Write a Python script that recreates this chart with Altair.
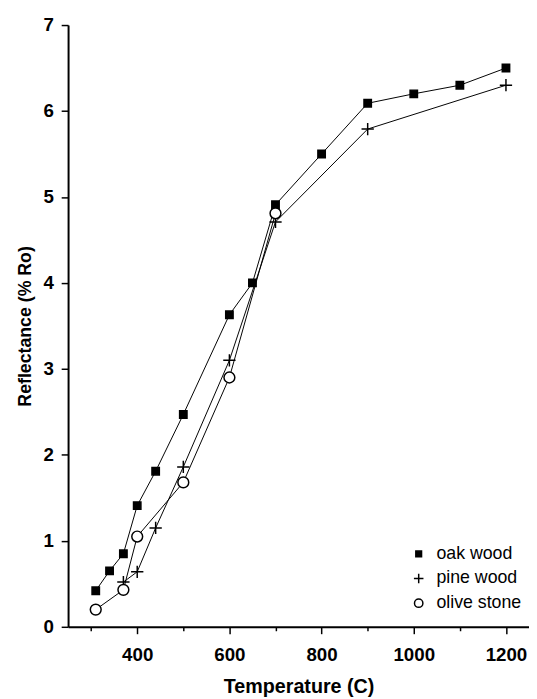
import altair as alt
import pandas as pd

# ---- data ----
series_names = ["oak wood", "pine wood", "olive stone"]

oak_temp = [310, 340, 370, 400, 440, 500, 600, 650, 700, 800, 900, 1000, 1100, 1200]
oak_refl = [0.42, 0.65, 0.85, 1.41, 1.81, 2.47, 3.63, 4.0, 4.91, 5.5, 6.09, 6.2, 6.3, 6.5]

pine_temp = [370, 400, 440, 500, 600, 700, 900, 1200]
pine_refl = [0.52, 0.64, 1.15, 1.86, 3.1, 4.71, 5.79, 6.3]

olive_temp = [310, 370, 400, 500, 600, 700]
olive_refl = [0.2, 0.43, 1.05, 1.68, 2.9, 4.81]

x_ticks = [300, 400, 500, 600, 700, 800, 900, 1000, 1100, 1200]
y_ticks = [0, 0.5, 1, 1.5, 2, 2.5, 3, 3.5, 4, 4.5, 5, 5.5, 6, 6.5, 7]

rows = []
for name, xs, ys in zip(series_names, [oak_temp, pine_temp, olive_temp],
                        [oak_refl, pine_refl, olive_refl]):
    for t, r in zip(xs, ys):
        rows.append({"series": name, "temp": t, "refl": r})
df = pd.DataFrame(rows)

FONT = "Liberation Sans"
SQUARE = "M-0.75,-0.75H0.75V0.75H-0.75Z"
PLUS = "M-1.25,0H1.25M0,-1.25V1.25"
CIRCLE = "M-1.1,0A1.1,1.1 0 1,0 1.1,0A1.1,1.1 0 1,0 -1.1,0Z"

x_enc = alt.X(
    "temp:Q",
    scale=alt.Scale(domain=[250, 1250], nice=False, zero=False),
    axis=alt.Axis(
        title="Temperature (C)",
        values=x_ticks,
        format="d",
        labelExpr="datum.value % 200 === 0 ? datum.label : ''",
        tickSize={"condition": {"test": "datum.value % 200 === 0", "value": 7}, "value": 4},
        labelFontSize=19,
        titleFontSize=20,
        labelPadding=12,
        titlePadding=13,
    ),
)
y_enc = alt.Y(
    "refl:Q",
    scale=alt.Scale(domain=[0, 7], nice=False),
    axis=alt.Axis(
        title="Reflectance (% Ro)",
        values=y_ticks,
        format="d",
        labelExpr="datum.value % 1 === 0 ? datum.label : ''",
        tickSize={"condition": {"test": "datum.value % 1 === 0", "value": 7}, "value": 4},
        labelFontSize=19,
        titleFontSize=18,
        labelPadding=8,
        titlePadding=9,
    ),
)

base = alt.Chart(df)

lines = base.mark_line(color="black", strokeWidth=1).encode(
    x=x_enc, y=y_enc, detail="series:N", order="temp:Q"
)

legend = alt.Legend(
    title=None,
    orient="none",
    legendX=347,
    legendY=528,
    labelFont=FONT,
    labelFontSize=18,
    labelFontWeight="normal",
    labelColor="black",
    symbolSize=60,
    symbolStrokeWidth=1.5,
    rowPadding=7,
    labelOffset=9,
)

points = base.mark_point(strokeWidth=1.5, opacity=1, fillOpacity=1, size=100).encode(
    x=x_enc,
    y=y_enc,
    stroke=alt.Stroke(
        "series:N",
        scale=alt.Scale(domain=series_names, range=["black", "black", "black"]),
        legend=legend,
    ),
    shape=alt.Shape(
        "series:N",
        scale=alt.Scale(domain=series_names, range=[SQUARE, PLUS, CIRCLE]),
        legend=legend,
    ),
    fill=alt.Fill(
        "series:N",
        scale=alt.Scale(domain=series_names, range=["black", "transparent", "white"]),
        legend=legend,
    ),
)

chart = (
    alt.layer(lines, points)
    .properties(
        width=468,
        height=611,
        autosize=alt.AutoSizeParams(type="none"),
        padding={"left": 61, "top": 12, "right": 0, "bottom": 68},
    )
    .configure(font=FONT)
    .configure_view(stroke=None)
    .configure_axis(
        grid=False,
        domainColor="black",
        domainWidth=2,
        tickColor="black",
        tickWidth=1.5,
        labelFont=FONT,
        labelFontWeight="bold",
        labelColor="black",
        titleFont=FONT,
        titleFontWeight="bold",
        titleColor="black",
    )
)

chart.save("out.html", embed_options={"renderer": "svg", "actions": False})
